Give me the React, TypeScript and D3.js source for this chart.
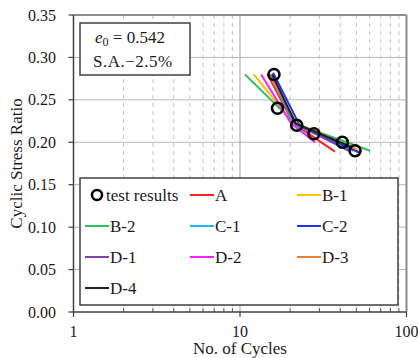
import React from "react";
import * as d3 from "d3";

const testN = [16.0, 16.8, 21.9, 27.8, 41.2, 49.1];
const testCSR = [0.28, 0.24, 0.22, 0.21, 0.20, 0.19];

const seriesNames = ["A", "B-1", "B-2", "C-1", "C-2", "D-1", "D-2", "D-3", "D-4"];
const seriesColors = ["#FF2020", "#FFC000", "#2DBE5F", "#20B8F0", "#2030FF", "#8040B0", "#FF20FF", "#ED7D31", "#202020"];
const seriesN = [
  [14.6, 21.0, 37.2],
  [12.1, 21.0, 52.0],
  [10.7, 21.5, 60.4],
  [15.0, 21.5, 48.0],
  [15.8, 22.8, 52.0],
  [15.2, 21.5, 45.0],
  [13.4, 20.3, 28.2],
  [15.0, 22.0, 50.0],
  [15.6, 21.6, 46.0],
];
const seriesCSR = [
  [0.28, 0.222, 0.189],
  [0.28, 0.222, 0.19],
  [0.28, 0.222, 0.19],
  [0.28, 0.22, 0.19],
  [0.282, 0.22, 0.188],
  [0.28, 0.222, 0.19],
  [0.28, 0.222, 0.20],
  [0.28, 0.222, 0.192],
  [0.28, 0.222, 0.195],
];

const yTicks = [0, 0.05, 0.1, 0.15, 0.2, 0.25, 0.3, 0.35];
const xMajor = [1, 10, 100];
const xMinor = [2, 3, 4, 5, 6, 7, 8, 9, 20, 30, 40, 50, 60, 70, 80, 90];

const legendItems = ["test results", ...seriesNames];

export default function App() {
  const W = 418, H = 358;
  const L = 73.5, R = 406.5, T = 15, B = 312;
  const x = d3.scaleLog().domain([1, 100]).range([L, R]);
  const y = d3.scaleLinear().domain([0, 0.35]).range([B, T]);
  const line = d3.line<[number, number]>().x(d => x(d[0])).y(d => y(d[1]));
  const font = "'Liberation Serif', 'Times New Roman', serif";
  const txt = "#1a1a1a";

  const legX = [85, 190, 297];
  const legY0 = 195, legDy = 31;

  return (
    <svg width={W} height={H} style={{ position: "absolute", left: 0, top: 0 }} fontFamily={font}>
      <rect width={W} height={H} fill="#fff" />
      {/* grid */}
      {yTicks.filter(t => t > 0 && t < 0.35).map(t => (
        <line key={"gy" + t} x1={L} x2={R} y1={y(t)} y2={y(t)} stroke="#b8b8b8" strokeWidth={1} />
      ))}
      {xMinor.map(t => (
        <line key={"gx" + t} x1={x(t)} x2={x(t)} y1={T} y2={B} stroke="#c4c4c4" strokeWidth={1} strokeDasharray="4,4" />
      ))}
      <line x1={x(10)} x2={x(10)} y1={T} y2={B} stroke="#b0b0b0" strokeWidth={1.2} />
      {/* frame */}
      <line x1={L} x2={R} y1={T} y2={T} stroke="#8c8c8c" strokeWidth={2} />
      <line x1={R} x2={R} y1={T} y2={B} stroke="#8c8c8c" strokeWidth={2} />
      {/* x minor ticks inside */}
      {xMinor.map(t => (
        <line key={"mx" + t} x1={x(t)} x2={x(t)} y1={B} y2={B - 4} stroke="#555" strokeWidth={1} />
      ))}
      {/* axes */}
      <line x1={L} x2={L} y1={T} y2={B} stroke="#404040" strokeWidth={1.5} />
      <line x1={L} x2={R} y1={B} y2={B} stroke="#404040" strokeWidth={1.5} />
      {yTicks.map(t => (
        <g key={"yt" + t}>
          <line x1={L - 5} x2={L} y1={y(t)} y2={y(t)} stroke="#404040" strokeWidth={1.2} />
          <text x={56} y={y(t)} dy="0.35em" textAnchor="end" fontSize={16} fill={txt}>{t.toFixed(2)}</text>
        </g>
      ))}
      {xMajor.map(t => (
        <g key={"xt" + t}>
          <line x1={x(t)} x2={x(t)} y1={B} y2={B + 5} stroke="#404040" strokeWidth={1.2} />
          <text x={x(t)} y={337} textAnchor="middle" fontSize={16} fill={txt}>{t}</text>
        </g>
      ))}
      <text x={x(10)} y={354} textAnchor="middle" fontSize={17} fill={txt}>No. of Cycles</text>
      <text transform={`translate(22,${(T + B) / 2}) rotate(-90)`} textAnchor="middle" fontSize={17} fill={txt}>Cyclic Stress Ratio</text>

      {/* annotation box */}
      <rect x={80} y={23} width={110} height={52} fill="#fff" stroke="#404040" strokeWidth={1.5} />
      <text x={95} y={43} fontSize={17} fill={txt}>
        <tspan fontStyle="italic">e</tspan>
        <tspan fontSize={12} dy={3}>0</tspan>
        <tspan dy={-3}> = 0.542</tspan>
      </text>
      <text x={93} y={67} fontSize={17} letterSpacing={0.5} fill={txt}>S.A.−2.5%</text>

      {/* series */}
      {seriesNames.map((nm, i) => (
        <path key={nm} d={line(seriesN[i].map((n, j) => [n, seriesCSR[i][j]]) as [number, number][]) || ""}
          fill="none" stroke={seriesColors[i]} strokeWidth={2} />
      ))}
      {testN.map((n, i) => (
        <circle key={"tp" + i} cx={x(n)} cy={y(testCSR[i])} r={5.5} fill="none" stroke="#000" strokeWidth={2.5} />
      ))}

      {/* legend */}
      <rect x={80} y={178} width={318} height={127} fill="#fff" stroke="#404040" strokeWidth={1.5} />
      {legendItems.map((nm, k) => {
        const col = k % 3, row = Math.floor(k / 3);
        const lx = legX[col], ly = legY0 + row * legDy;
        return (
          <g key={"lg" + nm}>
            {k === 0 ? (
              <circle cx={97} cy={ly} r={5} fill="none" stroke="#000" strokeWidth={2.5} />
            ) : (
              <line x1={lx} x2={lx + 24} y1={ly} y2={ly} stroke={seriesColors[k - 1]} strokeWidth={2} />
            )}
            <text x={k === 0 ? 106 : lx + 25} y={ly} dy="0.35em" fontSize={17} fill={txt}>{nm}</text>
          </g>
        );
      })}
    </svg>
  );
}
